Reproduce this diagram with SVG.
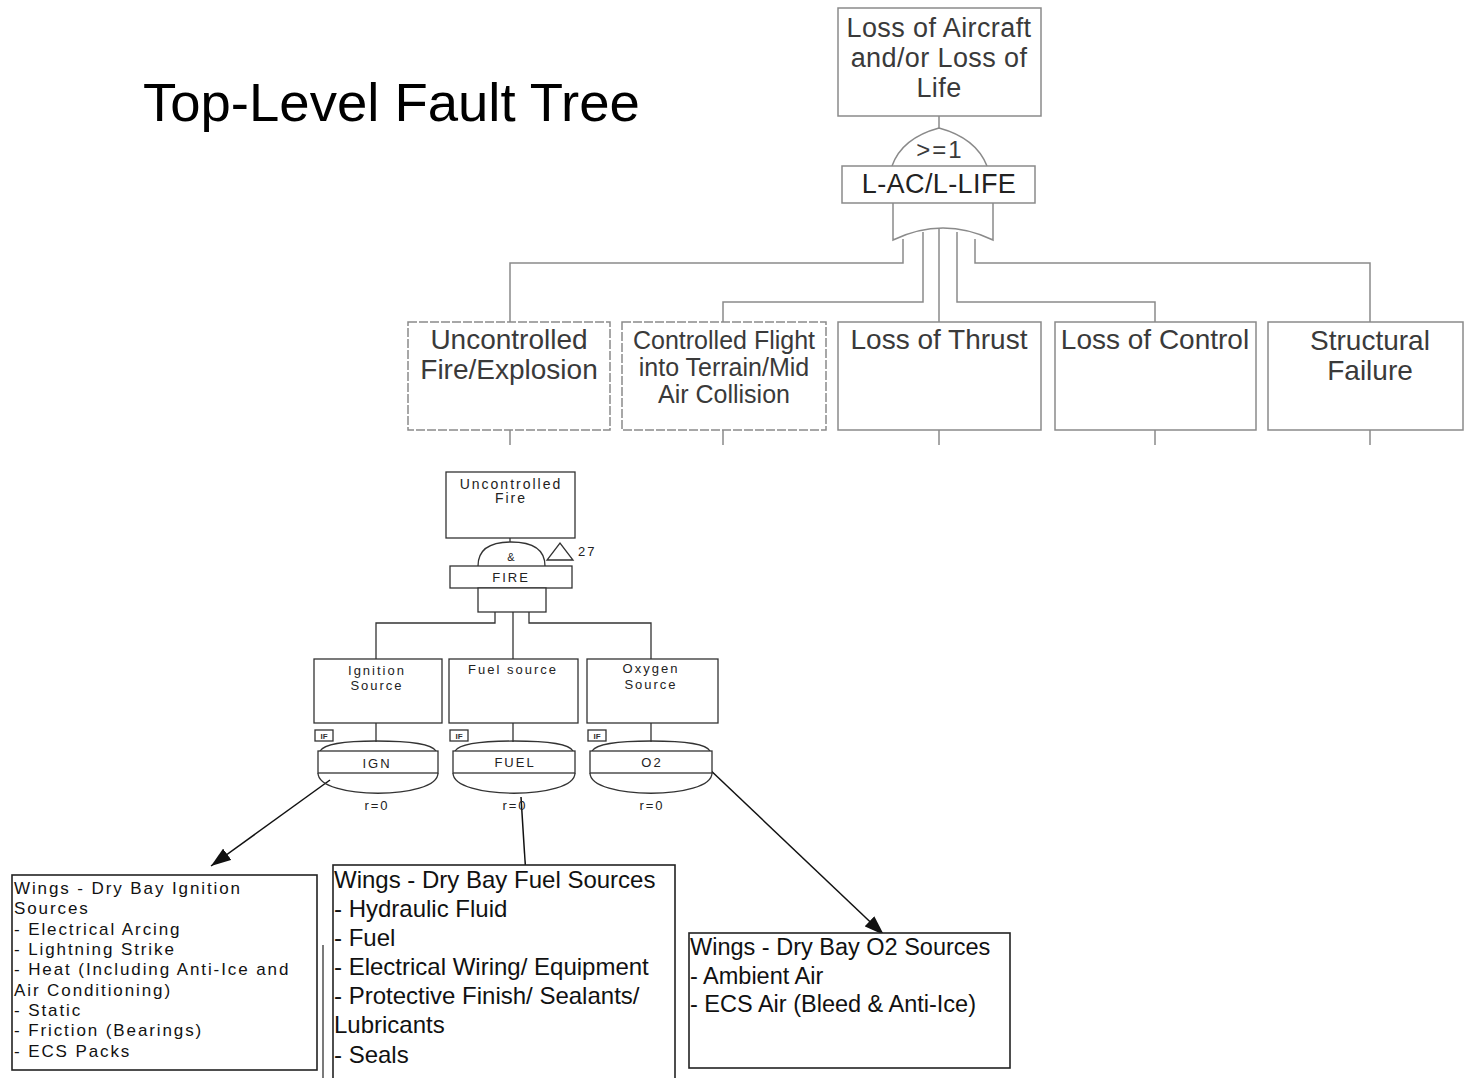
<svg xmlns="http://www.w3.org/2000/svg" width="1465" height="1078" viewBox="0 0 1465 1078">
<defs>
<marker id="ah" viewBox="0 0 20 14" refX="20" refY="7" markerWidth="20" markerHeight="14" markerUnits="userSpaceOnUse" orient="auto">
<path d="M0,0 L20,7 L0,14 Z" fill="#111"/>
</marker>
<style>
.title{font-family:"Liberation Sans",Arial,sans-serif;font-size:54.5px;fill:#000}
.tl{font-family:"Liberation Sans",Arial,sans-serif;font-size:28px;fill:#3a3a3a;text-anchor:middle}
.tl27{font-size:27px;letter-spacing:0.4px}
.tl25{font-size:25px}
.tl22{font-size:24px;letter-spacing:2px}
.tbox{fill:#fff;stroke:#8a8a8a;stroke-width:1.5}
.dash{stroke-dasharray:9 2}
.tline{fill:none;stroke:#8a8a8a;stroke-width:1.5}
.bl{font-family:"Liberation Sans",Arial,sans-serif;font-size:13px;fill:#222;text-anchor:middle;letter-spacing:2px}
.bl14{font-size:14px}
.bl11{font-size:11px;letter-spacing:0}
.if{font-size:8px;letter-spacing:0;font-weight:bold;fill:#333}
.bbox{fill:#fff;stroke:#333;stroke-width:1.3}
.bline{fill:none;stroke:#333;stroke-width:1.3}
.arr{fill:none;stroke:#111;stroke-width:1.5;marker-end:url(#ah)}
.ta{font-family:"Liberation Sans",Arial,sans-serif;font-size:17px;fill:#111;letter-spacing:1.9px}
.tb{font-family:"Liberation Sans",Arial,sans-serif;font-size:24px;fill:#111}
.tc{font-family:"Liberation Sans",Arial,sans-serif;font-size:23.5px;fill:#111}
.cbox{fill:#fff;stroke:#222;stroke-width:1.6}
</style>
</defs>
<rect width="1465" height="1078" fill="#fff"/>
<text class="title" x="143" y="121">Top-Level Fault Tree</text>

<g id="connectors">
<path class="tline" d="M939,116 V128"/>
<path class="tline" d="M903,239 V263 H510 V322"/>
<path class="tline" d="M923,232 V302 H723 V322"/>
<path class="tline" d="M939,229 V322"/>
<path class="tline" d="M957,232 V302 H1155 V322"/>
<path class="tline" d="M975,239 V263 H1370 V322"/>
<path class="tline" d="M510,430 V445 M723,430 V445 M939,430 V445 M1155,430 V445 M1370,430 V445"/>
<path class="bline" d="M510,538 V542"/>
<path class="bline" d="M495,612 V623 H376 V659"/>
<path class="bline" d="M513,612 V659"/>
<path class="bline" d="M529,612 V623 H651 V659"/>
<path class="bline" d="M376,723 V742 M513,723 V742 M651,723 V742"/>
<path class="arr" d="M330,780 L211,866"/>
<path class="arr" d="M521,797 L528,908"/>
<path class="arr" d="M706,766 L884,935"/>
<path class="bline" d="M323,945 V1078"/>
</g>

<g id="n-top">
<rect class="tbox" x="838" y="8" width="203" height="108"/>
<text class="tl tl27" x="939" y="37">Loss of Aircraft</text>
<text class="tl tl27" x="939" y="67">and/or Loss of</text>
<text class="tl tl27" x="939" y="97">Life</text>
</g>
<g id="g-top">
<path class="tline" d="M892,166 Q902,138 939,128 Q976,138 987,166"/>
<text class="tl tl22" x="940" y="158">&gt;=1</text>
<rect class="tbox" x="842" y="166" width="193" height="37"/>
<text class="tl tl27" x="939" y="193" style="fill:#222">L-AC/L-LIFE</text>
<path class="tline" d="M893,203 V240 Q943,216 993,240 V203"/>
</g>
<g id="n-fire-expl">
<rect class="tbox dash" x="408" y="322" width="202" height="108"/>
<text class="tl" x="509" y="349">Uncontrolled</text>
<text class="tl" x="509" y="379">Fire/Explosion</text>
</g>
<g id="n-cfit">
<rect class="tbox dash" x="622" y="322" width="204" height="108"/>
<text class="tl tl25" x="724" y="349">Controlled Flight</text>
<text class="tl tl25" x="724" y="376">into Terrain/Mid</text>
<text class="tl tl25" x="724" y="403">Air Collision</text>
</g>
<g id="n-thrust">
<rect class="tbox" x="838" y="322" width="203" height="108"/>
<text class="tl" x="939" y="349">Loss of Thrust</text>
</g>
<g id="n-control">
<rect class="tbox" x="1055" y="322" width="201" height="108"/>
<text class="tl" x="1155" y="349">Loss of Control</text>
</g>
<g id="n-struct">
<rect class="tbox" x="1268" y="322" width="195" height="108"/>
<text class="tl" x="1370" y="350">Structural</text>
<text class="tl" x="1370" y="380">Failure</text>
</g>

<g id="n-unc-fire">
<rect class="bbox" x="446" y="472" width="129" height="66"/>
<text class="bl bl14" x="511" y="489">Uncontrolled</text>
<text class="bl bl14" x="511" y="503">Fire</text>
</g>
<g id="g-fire">
<path class="bline" d="M478,566 Q478,542 511,542 Q545,542 545,566"/>
<text class="bl bl11" x="511" y="561">&amp;</text>
<path class="bline" d="M547,560 L573,560 L560,543 Z"/>
<text class="bl" x="578" y="556" style="text-anchor:start">27</text>
<rect class="bbox" x="450" y="566" width="122" height="22"/>
<text class="bl" x="511" y="582">FIRE</text>
<rect class="bbox" x="478" y="588" width="68" height="24"/>
</g>
<g id="n-ign-src">
<rect class="bbox" x="314" y="659" width="128" height="64"/>
<text class="bl" x="377" y="675">Ignition</text>
<text class="bl" x="377" y="690">Source</text>
<rect class="bbox" x="315" y="730" width="18" height="11"/>
<text class="bl if" x="324" y="739">IF</text>
</g>
<g id="n-fuel-src">
<rect class="bbox" x="449" y="659" width="129" height="64"/>
<text class="bl" x="513" y="674">Fuel source</text>
<rect class="bbox" x="450" y="730" width="18" height="11"/>
<text class="bl if" x="459" y="739">IF</text>
</g>
<g id="n-o2-src">
<rect class="bbox" x="587" y="659" width="131" height="64"/>
<text class="bl" x="651" y="673">Oxygen</text>
<text class="bl" x="651" y="689">Source</text>
<rect class="bbox" x="588" y="730" width="18" height="11"/>
<text class="bl if" x="597" y="739">IF</text>
</g>
<g id="g-ign">
<path class="bline" d="M320,751 Q326,741 376,741 Q430,741 436,751"/>
<rect class="bbox" x="318" y="751" width="120" height="22"/>
<text class="bl" x="377" y="768">IGN</text>
<path class="bline" d="M318,773 C318,800 438,800 438,773"/>
<text class="bl" x="377" y="810">r=0</text>
</g>
<g id="g-fuel">
<path class="bline" d="M455,751 Q461,741 514,741 Q568,741 573,751"/>
<rect class="bbox" x="453" y="751" width="122" height="22"/>
<text class="bl" x="515" y="767">FUEL</text>
<path class="bline" d="M453,773 C453,800 575,800 575,773"/>
<text class="bl" x="515" y="810">r=0</text>
</g>
<g id="g-o2">
<path class="bline" d="M592,751 Q598,741 651,741 Q705,741 710,751"/>
<rect class="bbox" x="590" y="751" width="122" height="22"/>
<text class="bl" x="652" y="767">O2</text>
<path class="bline" d="M590,773 C590,800 712,800 712,773"/>
<text class="bl" x="652" y="810">r=0</text>
</g>

<g id="n-ign-list">
<rect class="cbox" x="12" y="875" width="305" height="195"/>
<text class="ta" x="14" y="894">Wings - Dry Bay  Ignition</text>
<text class="ta" x="14" y="914">Sources</text>
<text class="ta" x="14" y="935">- Electrical Arcing</text>
<text class="ta" x="14" y="955">- Lightning Strike</text>
<text class="ta" x="14" y="975">- Heat (Including Anti-Ice and</text>
<text class="ta" x="14" y="996">Air Conditioning)</text>
<text class="ta" x="14" y="1016">- Static</text>
<text class="ta" x="14" y="1036">- Friction (Bearings)</text>
<text class="ta" x="14" y="1057">- ECS Packs</text>
</g>
<g id="n-fuel-list">
<rect class="cbox" x="333" y="865" width="342" height="220"/>
<text class="tb" x="334" y="888">Wings - Dry Bay Fuel Sources</text>
<text class="tb" x="334" y="917">- Hydraulic Fluid</text>
<text class="tb" x="334" y="946">- Fuel</text>
<text class="tb" x="334" y="975">- Electrical Wiring/ Equipment</text>
<text class="tb" x="334" y="1004">- Protective Finish/ Sealants/</text>
<text class="tb" x="334" y="1033">Lubricants</text>
<text class="tb" x="334" y="1063">- Seals</text>
</g>
<g id="n-o2-list">
<rect class="cbox" x="689" y="933" width="321" height="135"/>
<text class="tc" x="690" y="955">Wings - Dry Bay O2 Sources</text>
<text class="tc" x="690" y="984">- Ambient Air</text>
<text class="tc" x="690" y="1012">- ECS Air (Bleed &amp; Anti-Ice)</text>
</g>
</svg>
